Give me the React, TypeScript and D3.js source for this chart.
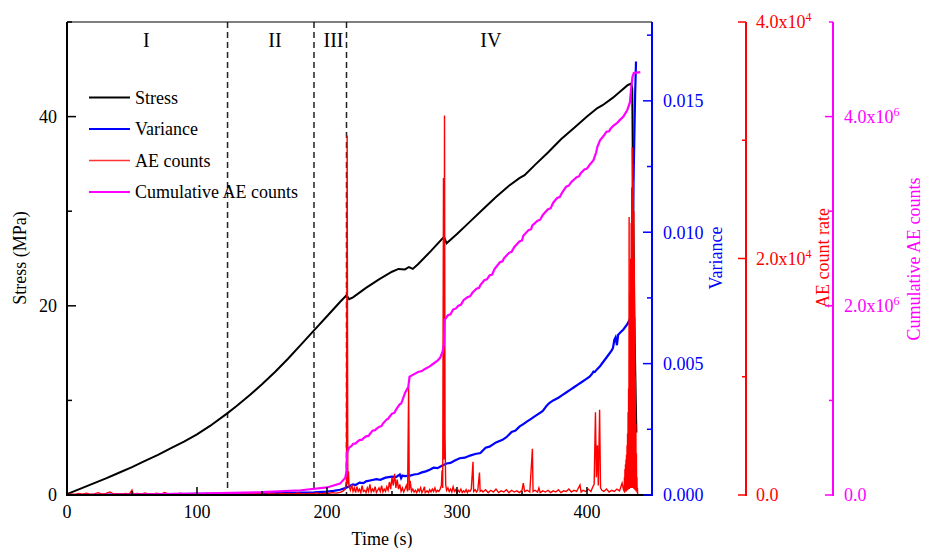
import React from "react";
import * as d3 from "d3";

// ---------- data ----------
const stressData: [number, number][] = [
  [0, 0.1], [10, 0.65], [20, 1.2], [30, 1.75], [40, 2.35], [50, 2.95], [60, 3.6], [70, 4.25],
  [80, 4.95], [90, 5.65], [100, 6.4], [110, 7.3], [123, 8.6], [130, 9.35], [140, 10.5], [150, 11.7],
  [160, 13.0], [170, 14.4], [180, 15.9], [190, 17.4], [200, 18.9], [210, 20.4], [215, 21.1],
  [217, 20.7], [220, 20.9], [230, 21.9], [240, 22.8], [250, 23.6], [255, 23.9], [260, 23.85],
  [263, 24.1], [266, 23.9], [270, 24.4], [280, 25.8], [290, 27.3], [292, 26.6], [300, 27.6],
  [310, 28.9], [320, 30.2], [330, 31.5], [340, 32.7], [348, 33.5], [352, 33.8], [360, 34.9],
  [370, 36.2], [380, 37.6], [390, 38.8], [400, 40.0], [408, 40.9], [412, 41.2], [420, 42.0],
  [426, 42.7], [431, 43.3], [434, 43.5], [434.8, 43.0], [435.2, 36.0], [436.5, 18], [437.5, 10],
  [438, 6.6],
];

const varianceData: [number, number][] = [
  [0, 0], [20, 0.00001], [50, 0.00002], [100, 0.00004], [150, 0.00006], [180, 0.00009],
  [190, 0.0001], [200, 0.00013], [205, 0.00016], [210, 0.0002], [214, 0.00026], [216, 0.0003],
  [218, 0.00036], [220, 0.0004], [222, 0.00038], [225, 0.00047], [228, 0.00045], [230, 0.00052],
  [234, 0.00056], [238, 0.0006], [241, 0.00058], [245, 0.00066], [250, 0.0007], [253, 0.00068],
  [256, 0.00078], [257, 0.00064], [258, 0.00074], [260, 0.00072], [264, 0.00074], [267, 0.00078],
  [270, 0.0008], [273, 0.00086], [276, 0.0009], [279, 0.00096], [282, 0.00104], [285, 0.00102],
  [288, 0.0011], [292, 0.0012], [295, 0.00122], [298, 0.0013], [302, 0.0014], [306, 0.00142],
  [310, 0.0015], [314, 0.00156], [318, 0.0016], [322, 0.0018], [325, 0.00184], [330, 0.002],
  [335, 0.0021], [338, 0.0022], [342, 0.0024], [345, 0.00245], [348, 0.0026], [351, 0.0027],
  [354, 0.0028], [357, 0.0029], [360, 0.003], [363, 0.0031], [366, 0.0032], [369, 0.0034],
  [371, 0.0035], [374, 0.0036], [378, 0.0037], [381, 0.0038], [384, 0.0039], [387, 0.004],
  [390, 0.0041], [393, 0.0042], [396, 0.0043], [399, 0.0044], [402, 0.0045], [404, 0.00462],
  [405, 0.0047], [406, 0.00468], [408, 0.0048], [410, 0.0049], [413, 0.0051], [416, 0.0053],
  [419, 0.0055], [420, 0.0056], [421, 0.0059], [422, 0.006], [423, 0.0057], [424, 0.0061],
  [426, 0.0062], [428, 0.0063], [431, 0.0065], [433, 0.0067], [434, 0.0068], [435, 0.0095],
  [436, 0.0125], [437, 0.0152], [437.7, 0.0165],
];

const aeCountData: [number, number][] = [
  [0, 0], [3, 80], [6, 40], [9, 120], [12, 60], [15, 150], [18, 50], [21, 90], [24, 200], [27, 70],
  [30, 130], [33, 260], [36, 80], [39, 110], [42, 60], [45, 140], [48, 90], [50, 420], [51, 60],
  [54, 120], [57, 80], [60, 180], [63, 70], [66, 100], [69, 150], [72, 60], [75, 220], [78, 90],
  [81, 120], [84, 70], [87, 160], [90, 80], [93, 110], [96, 60], [99, 130], [102, 90], [105, 70],
  [108, 120], [111, 80], [114, 150], [117, 60], [120, 100], [123, 80], [126, 130], [129, 70],
  [132, 110], [135, 90], [138, 160], [141, 60], [144, 120], [147, 80], [150, 140], [153, 200],
  [156, 90], [159, 120], [162, 70], [165, 150], [168, 100], [171, 130], [174, 80], [177, 170],
  [180, 110], [183, 90], [186, 140], [189, 120], [192, 180], [195, 100], [198, 150], [201, 130],
  [204, 200], [207, 160], [210, 220], [212, 300], [214, 500], [215, 1200], [215.5, 30400],
  [216, 900], [216.5, 2000], [217, 700], [218, 400], [219, 900], [220, 300], [221, 600], [222, 200],
  [223, 700], [224, 300], [225, 500], [226, 200], [227, 800], [228, 300], [229, 400], [230, 200],
  [231, 600], [232, 300], [233, 900], [234, 250], [235, 500], [236, 300], [237, 700], [238, 200],
  [239, 400], [240, 600], [241, 300], [242, 800], [243, 250], [244, 500], [245, 300], [246, 700],
  [247, 400], [248, 1100], [249, 500], [250, 1500], [251, 800], [252, 1800], [253, 600],
  [254, 1300], [255, 500], [256, 900], [257, 300], [258, 600], [259, 250], [260, 500], [261, 800],
  [262, 300], [262.8, 9100], [263.3, 400], [264, 1200], [265, 300], [266, 500], [267, 250],
  [268, 400], [269, 200], [270, 500], [271, 300], [272, 600], [273, 200], [274, 400], [275, 700],
  [275.5, 200], [277, 350], [278, 200], [279, 450], [280, 250], [281, 500], [282, 300], [283, 600],
  [284, 250], [285, 400], [286, 300], [287, 500], [288, 800], [288.5, 2100], [289, 600],
  [289.6, 26800], [290, 3000], [290.4, 32100], [290.8, 5000], [291.3, 900], [292, 400], [293, 600],
  [294, 300], [295, 500], [296, 250], [297, 700], [298, 300], [299, 450], [300, 200], [301, 400],
  [302, 250], [303, 500], [304, 200], [305, 350], [306, 250], [307, 450], [308, 200], [309, 400],
  [310, 300], [311, 500], [312.3, 2800], [312.8, 300], [314, 450], [315, 250], [316, 400],
  [317.3, 1900], [317.8, 300], [319, 400], [320, 250], [322, 450], [324, 200], [326, 400],
  [328, 250], [330, 500], [332, 200], [334, 350], [336, 250], [338, 450], [340, 200], [342, 400],
  [344, 250], [346, 350], [348, 200], [350, 400], [351, 1000], [352, 300], [354, 400], [356, 250],
  [358, 3900], [358.5, 300], [360, 400], [362, 250], [363, 600], [364, 200], [366, 350], [368, 250],
  [370, 400], [372, 200], [374, 350], [376, 250], [378, 450], [380, 200], [382, 350], [384, 300],
  [386, 500], [388, 250], [390, 400], [392, 300], [394.6, 850], [395.5, 250], [397, 400],
  [399, 300], [401, 500], [403, 300], [404.5, 700], [405.5, 900], [406.5, 7000], [407.2, 1500],
  [408, 4200], [408.7, 800], [409.7, 7200], [410.4, 600], [411.5, 400], [413, 300], [415, 500],
  [417, 250], [419, 400], [421, 300], [423, 500], [425, 350], [427, 1000], [428, 500],
  [428.6, 300], [428.8, 1500], [429, 200], [429.2, 2200], [429.4, 300], [429.6, 2600],
  [429.8, 300], [430, 3000], [430.2, 300], [430.4, 3400], [430.6, 400], [430.8, 4200],
  [431, 400], [431.2, 5200], [431.4, 400], [431.6, 7000], [431.8, 500], [432, 9000],
  [432.2, 500], [432.4, 23500], [432.6, 500], [432.8, 14000], [433, 600], [433.2, 17000],
  [433.4, 600], [433.6, 20000], [433.8, 600], [434, 23000], [434.2, 600], [434.4, 26000],
  [434.6, 600], [434.8, 29400], [435, 600], [435.2, 28000], [435.4, 600], [435.6, 26600],
  [435.8, 600], [436, 24000], [436.2, 500], [436.4, 20000], [436.6, 500], [436.8, 15000],
  [437, 400], [437.2, 10000], [437.4, 400], [437.6, 6000], [437.8, 300], [438, 3500],
  [438.2, 300], [438.4, 1500], [438.6, 200], [438.8, 600], [439, 0],
];

const cumulativeData: [number, number][] = [
  [0, 0], [50, 5000], [100, 15000], [150, 30000], [180, 50000], [200, 80000], [210, 120000],
  [214, 180000], [215, 250000], [215.5, 450000], [217, 500000], [219, 520000], [220, 540000],
  [222, 545000], [223, 560000], [225, 580000], [227, 585000], [228, 600000], [230, 620000],
  [232, 625000], [233, 645000], [235, 680000], [237, 685000], [238, 700000], [240, 720000],
  [242, 730000], [243, 755000], [246, 800000], [247, 805000], [248, 825000], [250, 860000],
  [252, 870000], [253, 900000], [256, 960000], [257, 965000], [258, 1000000], [260, 1080000],
  [262.5, 1140000], [263.5, 1250000], [266, 1270000], [270, 1300000], [273, 1310000],
  [275, 1330000], [279, 1360000], [282, 1390000], [285, 1420000], [287, 1450000],
  [289, 1520000], [290, 1600000], [290.5, 1850000], [293, 1900000], [295, 1910000],
  [297, 1960000], [299, 1970000], [301, 2000000], [303, 2010000], [305, 2060000],
  [308, 2090000], [310, 2100000], [312, 2140000], [315, 2180000], [317, 2190000],
  [318, 2220000], [321, 2270000], [323, 2280000], [325, 2320000], [327, 2330000],
  [329, 2390000], [333, 2460000], [335, 2470000], [336, 2500000], [340, 2560000],
  [342, 2570000], [344, 2620000], [348, 2680000], [350, 2690000], [351, 2740000],
  [355, 2800000], [357, 2810000], [358, 2850000], [362, 2900000], [364, 2910000],
  [366, 2960000], [370, 3020000], [372, 3030000], [374, 3090000], [377, 3140000],
  [379, 3150000], [381, 3200000], [384, 3260000], [386, 3270000], [388, 3310000],
  [392, 3360000], [394, 3370000], [395, 3400000], [398, 3440000], [400, 3450000],
  [402, 3490000], [405, 3540000], [407, 3620000], [408, 3680000], [410, 3750000],
  [413, 3800000], [415, 3840000], [417, 3845000], [418, 3870000], [420, 3900000],
  [423, 3930000], [425, 3960000], [428, 4000000], [431, 4070000], [433, 4150000],
  [434, 4300000], [435, 4420000], [436, 4460000], [441, 4470000],
];

const phaseBoundaries = [123.5, 190, 215];
const phaseLabels: [string, number][] = [["I", 61], ["II", 160], ["III", 205], ["IV", 326]];

const xMajor = [0, 100, 200, 300, 400];
const xMinor = [50, 150, 250, 350, 450];
const stressMajor = [0, 20, 40];
const stressMinor = [10, 30, 50];
const varMajor = [0, 0.005, 0.01, 0.015];
const varMinor = [0.0025, 0.0075, 0.0125, 0.0175];
const aeMajor: [number, string, string][] = [[0, "0.0", ""], [20000, "2.0x10", "4"], [40000, "4.0x10", "4"]];
const aeMinor = [10000, 30000];
const cumMajor: [number, string, string][] = [[0, "0.0", ""], [2e6, "2.0x10", "6"], [4e6, "4.0x10", "6"]];
const cumMinor = [1e6, 3e6, 5e6];

const legendItems: [string, string, number][] = [
  ["Stress", "#000000", 2],
  ["Variance", "#0000ff", 2],
  ["AE counts", "#ff3333", 1.5],
  ["Cumulative AE counts", "#ff00ff", 2],
];

// ---------- layout ----------
const W = 933, H = 548;
const L = 67, R = 652, T = 22, B = 495;
const FONT = "'Liberation Serif', 'Times New Roman', serif";
const FS = 18;

export default function App() {
  const x = d3.scaleLinear().domain([0, 450]).range([L, R]);
  const yS = d3.scaleLinear().domain([0, 50]).range([B, T]);
  const yV = d3.scaleLinear().domain([0, 0.018]).range([B, T]);
  const yA = d3.scaleLinear().domain([0, 40000]).range([B, T]);
  const yC = d3.scaleLinear().domain([0, 5e6]).range([B, T]);

  const mk = (ys: d3.ScaleLinear<number, number>) =>
    d3.line<[number, number]>().x((d) => x(d[0])).y((d) => ys(d[1]));

  const redAxisX = 746;
  const magAxisX = 833;

  return (
    <svg width={W} height={H} style={{ position: "absolute", left: 0, top: 0, background: "#fff" }}
      fontFamily={FONT}>
      <rect x={0} y={0} width={W} height={H} fill="#fff" />
      {/* phase dashed lines */}
      {phaseBoundaries.map((t, i) => (
        <line key={i} x1={x(t)} x2={x(t)} y1={T} y2={B} stroke="#222" strokeWidth={1.5} strokeDasharray="6,4" />
      ))}
      {phaseLabels.map(([s, t], i) => (
        <text key={i} x={x(t)} y={47} fontSize={20} textAnchor="middle" fill="#000">{s}</text>
      ))}

      {/* series */}
      <path d={mk(yS)(stressData) || ""} fill="none" stroke="#000" strokeWidth={2} />
      <path d={mk(yV)(varianceData) || ""} fill="none" stroke="#0000ff" strokeWidth={2.2} />
      <path d={mk(yA)(aeCountData) || ""} fill="none" stroke="#ff0000" strokeWidth={1.4} />
      <path d={mk(yC)(cumulativeData) || ""} fill="none" stroke="#ff00ff" strokeWidth={2.2} />

      {/* frame */}
      <line x1={L} x2={R} y1={T} y2={T} stroke="#000" strokeWidth={1.2} />
      <line x1={L} x2={R} y1={B} y2={B} stroke="#000" strokeWidth={2} />
      <line x1={L} x2={L} y1={T} y2={B + 1} stroke="#000" strokeWidth={2} />

      {/* x axis ticks (inward) */}
      {xMajor.map((v) => (
        <g key={v}>
          <line x1={x(v)} x2={x(v)} y1={B} y2={B - 8} stroke="#000" strokeWidth={1.5} />
          <text x={x(v)} y={518} fontSize={FS} textAnchor="middle">{v}</text>
        </g>
      ))}
      {xMinor.map((v) => (
        <line key={v} x1={x(v)} x2={x(v)} y1={B} y2={B - 4} stroke="#000" strokeWidth={1.5} />
      ))}
      <text x={382} y={545} fontSize={FS} textAnchor="middle">Time (s)</text>

      {/* left stress axis */}
      {stressMajor.map((v) => (
        <g key={v}>
          <line x1={L} x2={L + 9} y1={yS(v)} y2={yS(v)} stroke="#000" strokeWidth={1.5} />
          <text x={57} y={yS(v)} dy="0.35em" fontSize={FS} textAnchor="end">{v}</text>
        </g>
      ))}
      {stressMinor.map((v) => (
        <line key={v} x1={L} x2={L + 5} y1={yS(v)} y2={yS(v)} stroke="#000" strokeWidth={1.5} />
      ))}
      <text transform={`translate(26,258) rotate(-90)`} fontSize={FS} textAnchor="middle">Stress (MPa)</text>

      {/* variance axis */}
      <line x1={R} x2={R} y1={T} y2={B + 1} stroke="#0000ff" strokeWidth={2} />
      {varMajor.map((v) => (
        <g key={v}>
          <line x1={R} x2={R - 9} y1={yV(v)} y2={yV(v)} stroke="#0000ff" strokeWidth={1.5} />
          <text x={663} y={yV(v)} dy="0.35em" fontSize={FS} fill="#0000ff">{v.toFixed(3)}</text>
        </g>
      ))}
      {varMinor.map((v) => (
        <line key={v} x1={R} x2={R - 5} y1={yV(v)} y2={yV(v)} stroke="#0000ff" strokeWidth={1.5} />
      ))}
      <text transform={`translate(722,258) rotate(-90)`} fontSize={FS} textAnchor="middle" fill="#0000ff">Variance</text>

      {/* AE count rate axis */}
      <line x1={redAxisX} x2={redAxisX} y1={T} y2={B + 1} stroke="#ff0000" strokeWidth={2} />
      {aeMajor.map(([v, s, sup]) => (
        <g key={v}>
          <line x1={redAxisX} x2={redAxisX - 8} y1={yA(v)} y2={yA(v)} stroke="#ff0000" strokeWidth={1.5} />
          <text x={756} y={yA(v)} dy="0.35em" fontSize={FS} fill="#ff0000">
            {s}
            {sup && <tspan dy={-7} fontSize={12}>{sup}</tspan>}
          </text>
        </g>
      ))}
      {aeMinor.map((v) => (
        <line key={v} x1={redAxisX} x2={redAxisX - 4} y1={yA(v)} y2={yA(v)} stroke="#ff0000" strokeWidth={1.5} />
      ))}
      <text transform={`translate(829,258) rotate(-90)`} fontSize={FS} textAnchor="middle" fill="#ff0000">AE count rate</text>

      {/* cumulative axis */}
      <line x1={magAxisX} x2={magAxisX} y1={T} y2={B + 1} stroke="#ff00ff" strokeWidth={2} />
      {cumMajor.map(([v, s, sup]) => (
        <g key={v}>
          <line x1={magAxisX} x2={magAxisX - 8} y1={yC(v)} y2={yC(v)} stroke="#ff00ff" strokeWidth={1.5} />
          <text x={844} y={yC(v)} dy="0.35em" fontSize={FS} fill="#ff00ff">
            {s}
            {sup && <tspan dy={-7} fontSize={12}>{sup}</tspan>}
          </text>
        </g>
      ))}
      {cumMinor.map((v) => (
        <line key={v} x1={magAxisX} x2={magAxisX - 4} y1={yC(v)} y2={yC(v)} stroke="#ff00ff" strokeWidth={1.5} />
      ))}
      <text transform={`translate(920,259) rotate(-90)`} fontSize={FS} textAnchor="middle" fill="#ff00ff">Cumulative AE counts</text>

      {/* legend */}
      {legendItems.map(([name, color, w], i) => {
        const yy = 97.5 + i * 31.5;
        return (
          <g key={name}>
            <line x1={89} x2={130} y1={yy} y2={yy} stroke={color} strokeWidth={w} />
            <text x={135} y={yy} dy="0.35em" fontSize={FS} fill="#000">{name}</text>
          </g>
        );
      })}
    </svg>
  );
}
